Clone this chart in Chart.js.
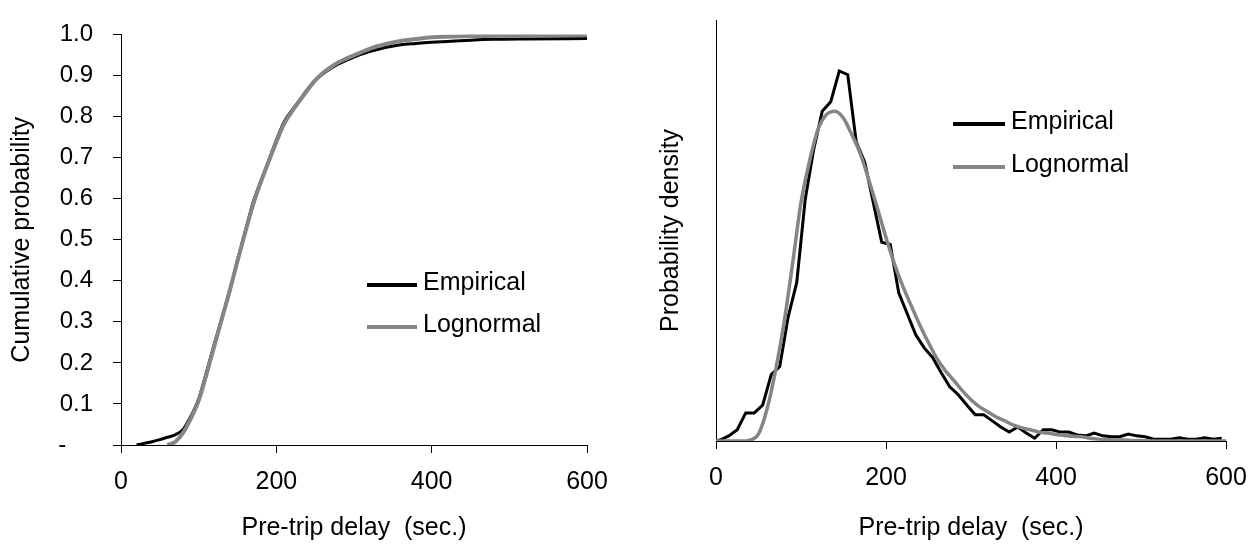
<!DOCTYPE html>
<html>
<head>
<meta charset="utf-8">
<script src="https://cdn.jsdelivr.net/npm/chart.js@4.4.1/dist/chart.umd.min.js"></script>
<style>
    html, body { margin: 0; padding: 0; background: #ffffff; }
    #wrap { position: relative; width: 1250px; height: 544px; }
    .box { position: absolute; top: 0; width: 625px; height: 544px; }
    #left { left: 0; }
    #right { left: 625px; }
</style>
</head>
<body>
<div id="wrap">
    <div class="box" id="left"><canvas id="cdfChart"></canvas></div>
    <div class="box" id="right"><canvas id="pdfChart"></canvas></div>
</div>
<script>
const seriesNames = ['Empirical', 'Lognormal'];
const delayTicks = [0, 200, 400, 600];
const cdfTicks = [0, 0.1, 0.2, 0.3, 0.4, 0.5, 0.6, 0.7, 0.8, 0.9, 1.0];

// cumulative probability, left panel
const cdfEmpiricalDelay = [20, 30, 40, 50, 60, 70, 80, 90, 100, 110, 120, 130, 140, 150, 160, 170, 180, 190, 200,
    210, 220, 230, 240, 250, 260, 270, 280, 290, 300, 320, 340, 360, 380, 400, 420, 450, 480, 520, 600];
const cdfEmpiricalProb = [0, 0.004, 0.008, 0.013, 0.019, 0.025, 0.038, 0.07, 0.112, 0.177, 0.245, 0.31, 0.375, 0.45, 0.52, 0.59, 0.642, 0.692, 0.742,
    0.787, 0.815, 0.84, 0.866, 0.888, 0.904, 0.917, 0.928, 0.937, 0.945, 0.958, 0.968, 0.975, 0.978, 0.981, 0.983, 0.986, 0.988, 0.989, 0.99];

const cdfLognormalDelay = [60, 70, 80, 90, 100, 110, 120, 130, 140, 150, 160, 170, 180, 190, 200,
    210, 220, 230, 240, 250, 260, 270, 280, 290, 300, 320, 340, 360, 380, 400, 450, 500, 600];
const cdfLognormalProb = [0, 0.008, 0.03, 0.065, 0.108, 0.172, 0.24, 0.308, 0.376, 0.448, 0.518, 0.585, 0.64, 0.69, 0.738,
    0.782, 0.812, 0.838, 0.864, 0.888, 0.906, 0.92, 0.932, 0.941, 0.949, 0.965, 0.976, 0.984, 0.989, 0.993, 0.996, 0.997, 0.998];

// probability density (% of trips per 10 sec), right panel
const pdfEmpiricalDelay = [0, 5, 15, 25, 35, 45, 55, 65, 75, 85, 95, 105, 115, 125, 135, 145, 155, 165, 175, 185, 195,
    205, 215, 225, 235, 245, 255, 265, 275, 285, 295, 305, 315, 325, 335, 345, 355, 365, 375, 385, 395,
    405, 415, 425, 435, 445, 455, 465, 475, 485, 495, 505, 515, 525, 535, 545, 555, 565, 575, 585, 595];
const pdfEmpiricalDensity = [0, 0.02, 0.11, 0.24, 0.60, 0.60, 0.77, 1.42, 1.59, 2.66, 3.39, 5.17, 6.24, 7.05, 7.25, 7.91, 7.83, 6.39, 5.96, 5.10, 4.25,
    4.20, 3.17, 2.72, 2.27, 1.99, 1.78, 1.46, 1.16, 0.99, 0.77, 0.56, 0.56, 0.43, 0.30, 0.19, 0.30, 0.17, 0.06, 0.24, 0.24,
    0.19, 0.19, 0.13, 0.11, 0.17, 0.11, 0.09, 0.09, 0.15, 0.11, 0.09, 0.04, 0.04, 0.04, 0.07, 0.04, 0.04, 0.07, 0.04, 0.06];

const pdfLognormalDelay = [0, 10, 20, 30, 40, 50, 60, 70, 80, 90, 100, 110, 120, 130, 140, 150, 160, 170, 180, 190, 200,
    210, 220, 230, 240, 250, 260, 270, 280, 290, 300, 310, 320, 330, 340, 350, 360, 370, 380, 390, 400,
    410, 420, 430, 440, 450, 460, 470, 480, 490, 500, 510, 520, 530, 540, 550, 560, 570, 580, 590, 600];
const pdfLognormalDensity = [0, 0, 0, 0, 0.02, 0.15, 0.68, 1.50, 2.52, 3.78, 5.10, 5.98, 6.66, 6.98, 7.05, 6.90, 6.54, 6.13, 5.57, 4.97, 4.35,
    3.78, 3.30, 2.88, 2.47, 2.10, 1.76, 1.50, 1.29, 1.07, 0.88, 0.73, 0.62, 0.51, 0.43, 0.34, 0.28, 0.24, 0.19, 0.17, 0.14,
    0.12, 0.10, 0.09, 0.06, 0.04, 0.03, 0.02, 0.02, 0.01, 0.01, 0, 0, 0, 0, 0, 0, 0, 0, 0, 0];

const toPoints = (xs, ys) => xs.map((x, i) => ({ x, y: ys[i] }));

const fontFamily = '"Liberation Sans", Arial, sans-serif';
const empiricalColor = '#000000';
const lognormalColor = '#858585';

// legend drawn inside the plot, like the original figure
const inlineLegend = {
    id: 'inlineLegend',
    afterDraw(chart, args, opts) {
        const ctx = chart.ctx;
        ctx.save();
        chart.data.datasets.forEach((ds, i) => {
            const y = opts.y + i * opts.rowGap;
            ctx.strokeStyle = ds.borderColor;
            ctx.lineWidth = opts.lineWidth;
            ctx.beginPath();
            ctx.moveTo(opts.x, y);
            ctx.lineTo(opts.x + opts.lineLength, y);
            ctx.stroke();
            ctx.fillStyle = '#000000';
            ctx.font = `25px ${fontFamily}`;
            ctx.textAlign = 'left';
            ctx.textBaseline = 'middle';
            ctx.fillText(ds.label, opts.x + opts.lineLength + opts.gap, y - 2);
        });
        ctx.restore();
    },
};

const xScale = (height) => ({
    type: 'linear',
    min: 0,
    max: 600,
    afterBuildTicks(scale) {
        scale.ticks = delayTicks.map((value) => ({ value }));
    },
    afterFit(scale) {
        scale.height = height;
        scale.paddingLeft = 0;
        scale.paddingRight = 0;
    },
    ticks: {
        color: '#000000',
        padding: 14,
        font: { family: fontFamily, size: 25 },
    },
    grid: {
        drawOnChartArea: false,
        drawTicks: true,
        tickLength: 8,
        color: '#000000',
    },
    border: { display: true, color: '#000000', width: 1 },
    title: {
        display: true,
        text: 'Pre-trip delay  (sec.)',
        color: '#000000',
        font: { family: fontFamily, size: 25 },
        padding: { top: 0, bottom: 1 },
    },
});

new Chart(document.getElementById('cdfChart'), {
    type: 'line',
    data: {
        datasets: [
            {
                label: seriesNames[0],
                data: toPoints(cdfEmpiricalDelay, cdfEmpiricalProb),
                borderColor: empiricalColor,
                borderWidth: 3,
                pointRadius: 0,
                cubicInterpolationMode: 'monotone',
                order: 2,
            },
            {
                label: seriesNames[1],
                data: toPoints(cdfLognormalDelay, cdfLognormalProb),
                borderColor: lognormalColor,
                borderWidth: 4,
                pointRadius: 0,
                cubicInterpolationMode: 'monotone',
                order: 1,
            },
        ],
    },
    options: {
        responsive: true,
        maintainAspectRatio: false,
        animation: false,
        devicePixelRatio: 1,
        layout: { padding: { top: 21, right: 38, bottom: 0, left: 0 } },
        plugins: {
            legend: { display: false },
            tooltip: { enabled: false },
            inlineLegend: { x: 367, y: 285, rowGap: 42, lineLength: 50, lineWidth: 4, gap: 6 },
        },
        scales: {
            x: xScale(99),
            y: {
                type: 'linear',
                min: 0,
                max: 1,
                afterBuildTicks(scale) {
                    scale.ticks = cdfTicks.map((value) => ({ value }));
                },
                afterFit(scale) {
                    scale.width = 121;
                },
                ticks: {
                    color: '#000000',
                    padding: 20,
                    font: { family: fontFamily, size: 24 },
                    callback(value) {
                        return value === 0 ? '-    ' : value.toFixed(1);
                    },
                },
                grid: {
                    drawOnChartArea: false,
                    drawTicks: true,
                    tickLength: 8,
                    color: '#000000',
                },
                border: { display: true, color: '#000000', width: 1 },
                title: {
                    display: true,
                    text: 'Cumulative probability',
                    color: '#000000',
                    font: { family: fontFamily, size: 25 },
                    padding: { top: 7, bottom: 0 },
                },
            },
        },
    },
    plugins: [inlineLegend],
});

new Chart(document.getElementById('pdfChart'), {
    type: 'line',
    data: {
        datasets: [
            {
                label: seriesNames[0],
                data: toPoints(pdfEmpiricalDelay, pdfEmpiricalDensity),
                borderColor: empiricalColor,
                borderWidth: 3,
                pointRadius: 0,
                tension: 0,
                order: 2,
            },
            {
                label: seriesNames[1],
                data: toPoints(pdfLognormalDelay, pdfLognormalDensity),
                borderColor: lognormalColor,
                borderWidth: 3.5,
                pointRadius: 0,
                cubicInterpolationMode: 'monotone',
                order: 1,
            },
        ],
    },
    options: {
        responsive: true,
        maintainAspectRatio: false,
        animation: false,
        devicePixelRatio: 1,
        layout: { padding: { top: 20, right: 24, bottom: 0, left: 0 } },
        plugins: {
            legend: { display: false },
            tooltip: { enabled: false },
            inlineLegend: { x: 328, y: 124, rowGap: 43, lineLength: 52, lineWidth: 4, gap: 6 },
        },
        scales: {
            x: xScale(103),
            y: {
                type: 'linear',
                min: 0,
                max: 9,
                afterFit(scale) {
                    scale.width = 91;
                },
                ticks: { display: false },
                grid: { display: false },
                border: { display: true, color: '#000000', width: 1 },
                title: {
                    display: true,
                    text: 'Probability density',
                    color: '#000000',
                    font: { family: fontFamily, size: 25 },
                    padding: { top: 31, bottom: 0 },
                },
            },
        },
    },
    plugins: [inlineLegend],
});
</script>
</body>
</html>
